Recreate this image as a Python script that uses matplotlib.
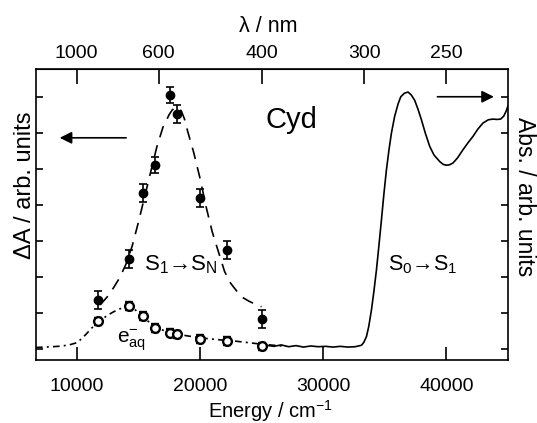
import matplotlib
matplotlib.use('Agg')
import matplotlib.pyplot as plt

plt.rcParams['font.family'] = ['Liberation Sans', 'DejaVu Sans']
plt.rcParams['mathtext.fontset'] = 'custom'
plt.rcParams['mathtext.rm'] = 'Liberation Sans'
plt.rcParams['mathtext.it'] = 'Liberation Sans:italic'

# --- Data ---
# transient points (energy in cm-1)
point_energy = [11765, 14286, 15385, 16393, 17544, 18182, 20000, 22222, 25000]
s1sn_vals = [1.36, 2.5, 4.34, 5.11, 7.06, 6.52, 4.2, 2.75, 0.83]
s1sn_err = [0.24, 0.25, 0.25, 0.22, 0.22, 0.25, 0.25, 0.25, 0.25]
eaq_vals = [0.76, 1.19, 0.91, 0.58, 0.45, 0.41, 0.27, 0.22, 0.07]
eaq_err = [0.1, 0.12, 0.1, 0.1, 0.1, 0.1, 0.11, 0.1, 0.1]

# dashed fit curve for S1->SN
fit_energy = [11900, 12500, 13000, 13500, 14000, 14500, 15000, 15500, 16000, 16500,
              17000, 17500, 17750, 18000, 18250, 18500, 18750, 19000, 19500, 20000,
              20500, 21000, 21500, 22000, 22500, 23000, 23500, 24000, 24500, 25000]
fit_vals = [1.22, 1.45, 1.7, 1.98, 2.35, 2.85, 3.5, 4.2, 4.9, 5.6,
            6.15, 6.5, 6.63, 6.7, 6.7, 6.6, 6.38, 6.05, 5.45, 4.75,
            3.95, 3.25, 2.7, 2.15, 1.82, 1.6, 1.42, 1.32, 1.24, 1.17]

# dash-dot curve for hydrated electron
eaq_energy = [6700, 7500, 8500, 9000, 9500, 10000, 10400, 10800, 11200, 11600,
              12000, 12500, 13000, 13500, 14000, 14300, 14600, 15000, 15500, 16000,
              16500, 17000, 17500, 18000, 19000, 20000, 21000, 22000, 23000, 24000,
              25000, 26000, 27000]
eaq_curve = [0.04, 0.05, 0.07, 0.09, 0.12, 0.17, 0.28, 0.42, 0.57, 0.7,
             0.81, 0.93, 1.03, 1.11, 1.16, 1.18, 1.14, 1.0, 0.85, 0.71,
             0.6, 0.52, 0.46, 0.42, 0.36, 0.31, 0.27, 0.24, 0.21, 0.17,
             0.13, 0.1, 0.07]

# steady-state absorption spectrum (solid)
abs_energy = [25400, 26000, 26600, 27200, 27800, 28400, 29000, 29600, 30200, 30800,
              31400, 32000, 32600, 33110, 33300, 33515, 33700, 33920, 34120, 34325,
              34530, 34730, 34930, 35135, 35340, 35540, 35800, 36080, 36300, 36600,
              36890, 37150, 37430, 37700, 37975, 38300, 38650, 39000, 39460, 39750,
              40000, 40250, 40535, 40900, 41350, 41750, 42160, 42550, 42970, 43400,
              43780, 44100, 44400, 44650, 44850, 45000]
abs_vals = [0.1, 0.07, 0.11, 0.06, 0.09, 0.05, 0.08, 0.06, 0.07, 0.05,
            0.07, 0.05, 0.06, 0.1, 0.18, 0.34, 0.62, 1.08, 1.6, 2.19,
            2.88, 3.58, 4.3, 4.97, 5.52, 5.99, 6.45, 6.8, 7.0, 7.1,
            7.13, 7.05, 6.9, 6.65, 6.36, 5.98, 5.62, 5.38, 5.2, 5.12,
            5.1, 5.11, 5.16, 5.3, 5.53, 5.72, 5.9, 6.1, 6.27, 6.36,
            6.38, 6.37, 6.38, 6.46, 6.6, 6.75]

# top axis wavelengths (nm)
wl_ticks = [1000, 600, 400, 300, 250]

fig = plt.figure(figsize=(5.37, 4.23), dpi=100)
ax = fig.add_axes([0.067, 0.148, 0.879, 0.688])

# curves
ax.plot(fit_energy, fit_vals, color='black', lw=1.2, linestyle=(0, (7, 5)))
ax.plot(eaq_energy, eaq_curve, color='black', lw=1.2, linestyle=(0, (4, 2.5, 1.2, 2.5)))
ax.plot(abs_energy, abs_vals, color='black', lw=1.2)

# data points
ax.errorbar(point_energy, s1sn_vals, yerr=s1sn_err, fmt='o', color='black',
            ms=6, capsize=3, elinewidth=1.2, capthick=1.2)
ax.errorbar(point_energy, eaq_vals, yerr=eaq_err, fmt='o', color='black',
            mfc='white', mec='black', mew=1.7, ms=6.3, capsize=3,
            elinewidth=1.2, capthick=1.2)

ax.set_xlim(6700, 45000)
ax.set_ylim(-0.32, 7.76)

# axis styling
ax.set_xticks([10000, 20000, 30000, 40000])
ax.set_yticks(range(8))
ax.set_yticklabels([])
ax.tick_params(axis='x', direction='in', length=9.5, width=1.2, labelsize=14, pad=12.5)
ax.tick_params(axis='y', direction='in', length=5, width=1.2, left=True, right=True)
for sp in ax.spines.values():
    sp.set_linewidth(1.2)

# top wavelength axis
top = ax.secondary_xaxis('top')
top.set_xticks([1e7 / w for w in wl_ticks])
top.set_xticklabels([str(w) for w in wl_ticks])
top.tick_params(direction='in', length=10.8, width=1.2, labelsize=14, pad=5.5)

# axis labels placed as text
ax.text(0.496, -0.198, 'Energy / cm$^{\\mathregular{-1}}$', transform=ax.transAxes,
        ha='center', va='baseline', fontsize=14.5)
ax.text(0.493, 1.127, '\u03bb / nm', transform=ax.transAxes,
        ha='center', va='baseline', fontsize=15.5)
ax.text(-0.023, 0.603, '\u0394A / arb. units', transform=ax.transAxes, rotation=90,
        ha='center', va='center', fontsize=17)
ax.text(1.034, 0.563, 'Abs. / arb. units', transform=ax.transAxes, rotation=-90,
        ha='center', va='center', fontsize=16.5)

# annotations
ax.text(27400, 6.35, 'Cyd', fontsize=21, ha='center', va='center')
ax.text(18450, 2.33, 'S$_\\mathregular{1}$\u2192S$_\\mathregular{N}$', fontsize=16,
        ha='center', va='center')
ax.text(38080, 2.33, 'S$_\\mathregular{0}$\u2192S$_\\mathregular{1}$', fontsize=15.5,
        ha='center', va='center')
ax.text(13270, 0.17, '$\\mathregular{e_{aq}^{-}}$', fontsize=15, ha='left', va='baseline')

ax.annotate('', xy=(8400, 5.86), xytext=(14240, 5.86),
            arrowprops=dict(arrowstyle='-|>', color='black', lw=1.2, mutation_scale=18))
ax.annotate('', xy=(44080, 7.0), xytext=(39050, 7.0),
            arrowprops=dict(arrowstyle='-|>', color='black', lw=1.2, mutation_scale=18))

plt.savefig('out.png', dpi=100)
plt.close(fig)
